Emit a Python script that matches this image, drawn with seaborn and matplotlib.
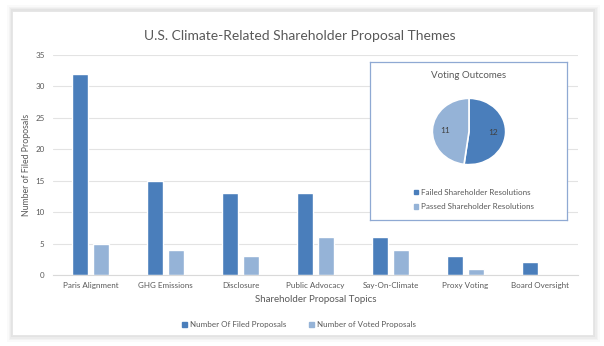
import matplotlib
matplotlib.use("Agg")
import matplotlib.pyplot as plt
from matplotlib.patches import Rectangle, Patch
import seaborn as sns
import pandas as pd

topics = ["Paris Alignment", "GHG Emissions", "Disclosure", "Public Advocacy",
          "Say-On-Climate", "Proxy Voting", "Board Oversight"]
filed = [32, 15, 13, 13, 6, 3, 2]
voted = [5, 4, 3, 6, 4, 1, 0]
series_names = ["Number Of Filed Proposals", "Number of Voted Proposals"]

outcome_labels = ["Failed Shareholder Resolutions", "Passed Shareholder Resolutions"]
outcome_values = [12, 11]

DARK = "#4A7EBB"
LIGHT = "#95B3D7"
TXT = "#595959"

sns.set_theme(style="white")
plt.rcParams["font.family"] = ["Lato", "DejaVu Sans"]

W, H = 604, 346
fig = plt.figure(figsize=(W / 100, H / 100), dpi=100)
fig.patch.set_facecolor("white")


def fx(x):
    return x / W


def fy(y):
    return 1 - y / H


# background layer in pixel units: card with a soft shadow
bg = fig.add_axes([0, 0, 1, 1], zorder=-10)
bg.set_xlim(0, W)
bg.set_ylim(H, 0)
bg.axis("off")
for d, a in [(7, 0.04), (5, 0.05), (3.5, 0.06), (2, 0.08)]:
    bg.add_patch(Rectangle((12 - d * 0.7, 11 - d * 0.9), 581 + d * 1.7, 324 + d * 1.9,
                           facecolor="#808080", edgecolor="none", alpha=a))
bg.add_patch(Rectangle((12, 11), 581, 324, facecolor="white",
                       edgecolor="#e4e4e4", linewidth=0.6))

# main bar chart
ax = fig.add_axes([fx(53), fy(275), fx(578) - fx(53), (275 - 55) / H])
ax.set_facecolor("none")
df = pd.DataFrame({
    "topic": topics * 2,
    "count": filed + voted,
    "series": [series_names[0]] * len(topics) + [series_names[1]] * len(topics),
})
sns.barplot(data=df, x="topic", y="count", hue="series", order=topics,
            hue_order=series_names, palette=[DARK, LIGHT], width=0.56, gap=0.24,
            saturation=1, ax=ax, legend=False)
ax.set_ylim(0, 35)
ax.set_yticks(range(0, 36, 5))
ax.set_xlim(-0.5, len(topics) - 0.5)
ax.yaxis.grid(True, color="#e3e3e3", linewidth=0.8)
ax.set_axisbelow(True)
for s in ["top", "right", "left"]:
    ax.spines[s].set_visible(False)
ax.spines["bottom"].set_color("#d9d9d9")
ax.spines["bottom"].set_linewidth(0.8)
ax.tick_params(axis="both", length=0, labelsize=5.8, colors=TXT, pad=6)
ax.tick_params(axis="x", pad=5)
ax.set_xlabel("Shareholder Proposal Topics", fontsize=7, color=TXT, labelpad=4)
ax.set_ylabel("Number of Filed Proposals", fontsize=6.3, color=TXT, labelpad=3)

fig.text(fx(300), fy(36), "U.S. Climate-Related Shareholder Proposal Themes",
         ha="center", va="center", fontsize=10, color=TXT)

fig.legend(handles=[Patch(color=DARK, label=series_names[0]),
                    Patch(color=LIGHT, label=series_names[1])],
           loc="center", bbox_to_anchor=(fx(299), fy(325)), ncol=2, frameon=False,
           fontsize=5.8, labelcolor=TXT, handlelength=0.6, handleheight=0.6,
           handletextpad=0.4, columnspacing=2.8)

# inset pie panel
box = fig.add_axes([fx(370), fy(220), fx(197), 158 / H])
box.set_xticks([])
box.set_yticks([])
box.set_facecolor("white")
for s in box.spines.values():
    s.set_color("#8FA9D3")
    s.set_linewidth(0.9)
box.text(0.5, 1 - 13 / 158, "Voting Outcomes", transform=box.transAxes,
         ha="center", va="center", fontsize=7, color=TXT)

# the pie is drawn slightly wide, as in the stretched export
pax = fig.add_axes([fx(432), fy(165), fx(74), 67 / H])
wedges, texts = pax.pie(outcome_values, colors=[DARK, LIGHT], startangle=90,
                        counterclock=False, labels=[str(v) for v in outcome_values],
                        labeldistance=0.66,
                        wedgeprops=dict(edgecolor="white", linewidth=1.2),
                        textprops=dict(fontsize=6, color="#404040"))
for t in texts:
    t.set_ha("center")
    t.set_va("center")
pax.set_aspect("auto")
pax.set_xlim(-1.01, 1.01)
pax.set_ylim(-1.01, 1.01)

box.legend(handles=[Patch(color=DARK, label=outcome_labels[0]),
                    Patch(color=LIGHT, label=outcome_labels[1])],
           loc="upper left", bbox_to_anchor=(40 / 197, 1 - 123 / 158), frameon=False,
           fontsize=5.8, labelcolor=TXT, handlelength=0.5, handleheight=0.5,
           handletextpad=0.4, labelspacing=0.9, borderpad=0)

fig.savefig("out.png", dpi=100)
